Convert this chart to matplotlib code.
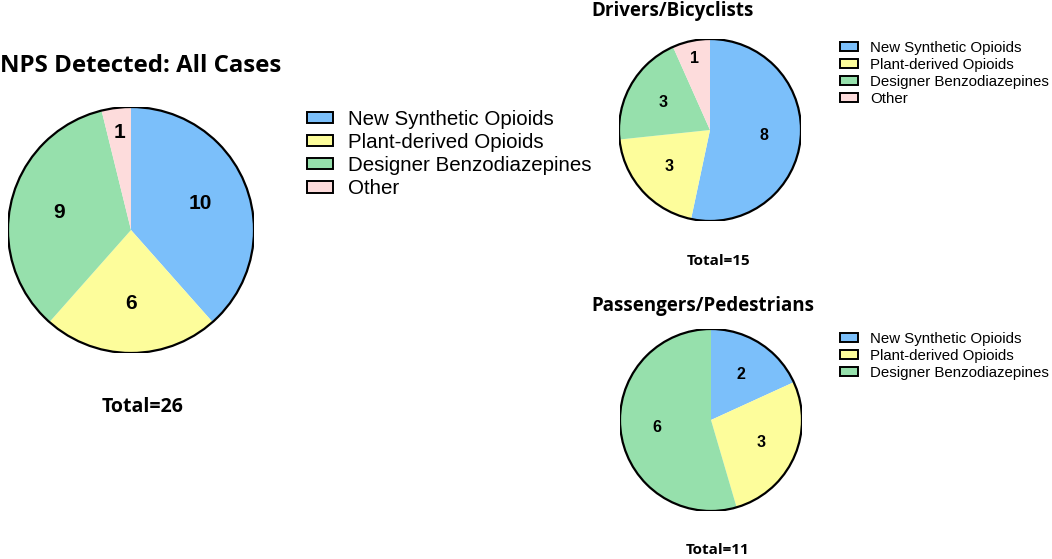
import numpy as np
import matplotlib.pyplot as plt
from matplotlib.patches import Circle, Patch

# ──────────────────────────────────────────────────────────────
# DATA
# ──────────────────────────────────────────────────────────────
CATEGORIES = ["New Synthetic Opioids", "Plant-derived Opioids",
              "Designer Benzodiazepines", "Other"]
ALL_CASES = [10, 6, 9, 1]
DRIVERS = [8, 3, 3, 1]
PASSENGERS = [2, 3, 6]

COLORS = ["#7bbffa", "#fdfd9b", "#96e0ac", "#fddcdc"]

W, H = 1052, 559
TITLE_FONT = ["Open Sans", "DejaVu Sans"]
BODY_FONT = ["Liberation Sans", "DejaVu Sans"]

fig = plt.figure(figsize=(W / 100, H / 100), dpi=100)


def draw_pie(values, cx, cy, r, num_size):
    """Pie centred at pixel (cx, cy) with radius r, clockwise from 12 o'clock."""
    ax = fig.add_axes([(cx - r) / W, (H - cy - r) / H, 2 * r / W, 2 * r / H])
    wedges, _ = ax.pie(values, colors=COLORS[:len(values)], startangle=90,
                       counterclock=False, wedgeprops=dict(linewidth=0))
    ax.add_patch(Circle((0, 0), 1, fill=False, lw=1.6, ec="black"))
    total = sum(values)
    for w, v in zip(wedges, values):
        ang = np.deg2rad((w.theta1 + w.theta2) / 2)
        d = 0.8 if v / total < 0.1 else 0.6
        ax.text(d * np.cos(ang), d * np.sin(ang), str(v), ha="center",
                va="center", fontsize=num_size, fontweight="bold",
                family=BODY_FONT)
    ax.set_xlim(-1, 1)
    ax.set_ylim(-1, 1)
    ax.axis("off")
    return total


def add_legend(n, x, y, size, spacing, hl, hh, pad):
    handles = [Patch(facecolor=COLORS[i], edgecolor="black", lw=1.4)
               for i in range(n)]
    fig.legend(handles, CATEGORIES[:n], loc="upper left",
               bbox_to_anchor=(x / W, 1 - y / H), frameon=False,
               prop=dict(family=BODY_FONT, size=size),
               handlelength=hl, handleheight=hh, labelspacing=spacing,
               handletextpad=pad, borderpad=0, borderaxespad=0)


# --- Main pie ---
t = draw_pie(ALL_CASES, 131, 230, 123, 15)
fig.text(0, 1 - 66 / H, "NPS Detected: All Cases", fontsize=17.3,
         fontweight="bold", family=TITLE_FONT, va="center", ha="left")
fig.text(143 / W, 1 - 407 / H, f"Total={t}", fontsize=14,
         fontweight="bold", family=TITLE_FONT, va="center", ha="center")
add_legend(4, 307, 110, 14.8, 0.2, 1.27, 0.45, 0.72)

# --- Drivers/Bicyclists ---
t = draw_pie(DRIVERS, 710, 130, 91, 11.5)
fig.text(591 / W, 1 - 11 / H, "Drivers/Bicyclists", fontsize=13.5,
         fontweight="bold", family=TITLE_FONT, va="center", ha="left")
fig.text(719 / W, 1 - 261 / H, f"Total={t}", fontsize=11,
         fontweight="bold", family=TITLE_FONT, va="center", ha="center")
add_legend(4, 840, 41, 10.85, 0.2, 1.2, 0.5, 0.8)

# --- Passengers/Pedestrians ---
t = draw_pie(PASSENGERS, 711, 420, 91, 11.5)
fig.text(591 / W, 1 - 306 / H, "Passengers/Pedestrians", fontsize=13.5,
         fontweight="bold", family=TITLE_FONT, va="center", ha="left")
fig.text(718 / W, 1 - 550 / H, f"Total={t}", fontsize=11,
         fontweight="bold", family=TITLE_FONT, va="center", ha="center")
add_legend(3, 840, 332, 10.85, 0.2, 1.2, 0.5, 0.8)

fig.savefig("out.png", dpi=100)
